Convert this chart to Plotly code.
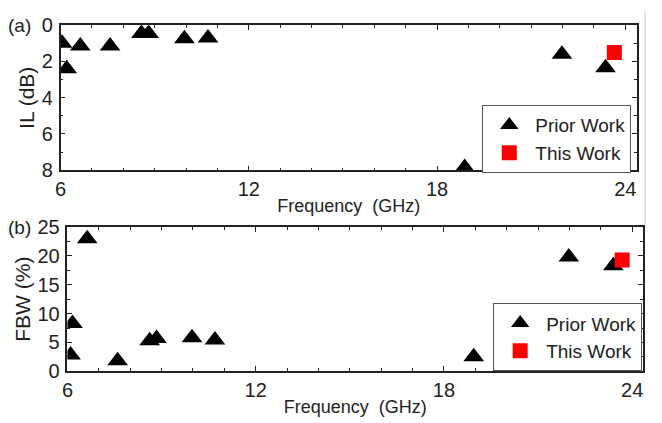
import plotly.graph_objects as go

# Panel (a): insertion loss
il_prior_freq = [6.05, 6.2, 6.63, 7.58, 8.58, 8.81, 9.95, 10.7, 18.88, 21.98, 23.37]
il_prior_val = [1.0, 2.4, 1.15, 1.15, 0.45, 0.45, 0.75, 0.7, 7.85, 1.6, 2.35]
il_this_freq = [23.65]
il_this_val = [1.5]

# Panel (b): fractional bandwidth
fbw_prior_freq = [6.1, 6.16, 6.63, 7.6, 8.62, 8.84, 9.97, 10.7, 18.95, 21.98, 23.4]
fbw_prior_val = [2.8, 8.3, 23.0, 1.8, 5.3, 5.7, 5.8, 5.4, 2.5, 19.8, 18.3]
fbw_this_freq = [23.68]
fbw_this_val = [19.3]

x_ticks = [6, 12, 18, 24]
il_ticks = [0, 2, 4, 6, 8]
fbw_ticks = [0, 5, 10, 15, 20, 25]

W, H = 662, 423
FONT = "Liberation Sans, Arial, sans-serif"

fig = go.Figure()
tri = dict(symbol="triangle-up", size=18, color="black")
sq = dict(symbol="square", size=15, color="#ff0000")

fig.add_trace(go.Scatter(x=il_prior_freq, y=il_prior_val, mode="markers", marker=tri,
                         name="Prior Work", xaxis="x", yaxis="y", legend="legend"))
fig.add_trace(go.Scatter(x=il_this_freq, y=il_this_val, mode="markers", marker=sq,
                         name="This Work", xaxis="x", yaxis="y", legend="legend"))
fig.add_trace(go.Scatter(x=fbw_prior_freq, y=fbw_prior_val, mode="markers", marker=tri,
                         name="Prior Work", xaxis="x2", yaxis="y2", legend="legend2"))
fig.add_trace(go.Scatter(x=fbw_this_freq, y=fbw_this_val, mode="markers", marker=sq,
                         name="This Work", xaxis="x2", yaxis="y2", legend="legend2"))

def px_x(p):
    return p / W

def px_y(p):
    return 1 - p / H

axis_common = dict(showline=True, linecolor="#222", linewidth=1.5, mirror="ticks",
                   ticks="inside", ticklen=5, tickwidth=1.3, tickcolor="#222",
                   showgrid=False, zeroline=False,
                   tickfont=dict(family=FONT, size=20, color="#222"))

minor_x = dict(ticks="inside", ticklen=3, tickwidth=1.1, tickcolor="#222", nticks=5, showgrid=False)

legend_common = dict(bgcolor="white", bordercolor="#555", borderwidth=1,
                     font=dict(family=FONT, size=19, color="#222"), tracegroupgap=0,
                     itemwidth=42)

fig.update_layout(
    width=W, height=H,
    margin=dict(l=0, r=0, t=0, b=0),
    paper_bgcolor="white", plot_bgcolor="white",
    font=dict(family=FONT, color="#222"),
    xaxis=dict(domain=[px_x(55), px_x(637)], range=[6, 24.38], tickvals=x_ticks,
               anchor="y", minor=minor_x, ticklabelstandoff=0,
               title=dict(text="Frequency\u00a0 (GHz)", font=dict(family=FONT, size=18), standoff=0),
               **axis_common),
    yaxis=dict(domain=[px_y(168), px_y(15)], range=[8, 0], tickvals=il_ticks,
               anchor="x", minor=dict(ticks="inside", ticklen=3, tickwidth=1.1, tickcolor="#222", dtick=1),
               ticklabelstandoff=2,
               title=dict(text="IL (dB)", font=dict(family=FONT, size=21), standoff=1),
               **axis_common),
    xaxis2=dict(domain=[px_x(62), px_x(643)], range=[6, 24.35], tickvals=x_ticks,
                anchor="y2", minor=minor_x, ticklabelstandoff=0,
                title=dict(text="Frequency\u00a0 (GHz)", font=dict(family=FONT, size=18), standoff=0),
                **axis_common),
    yaxis2=dict(domain=[px_y(380), px_y(228)], range=[0, 25], tickvals=fbw_ticks,
                anchor="x2", minor=dict(ticks="inside", ticklen=3, tickwidth=1.1, tickcolor="#222", dtick=2.5),
                ticklabelstandoff=2,
                title=dict(text="FBW (%)", font=dict(family=FONT, size=21), standoff=1),
                **axis_common),
    legend=dict(x=px_x(631), xanchor="right", y=px_y(171), yanchor="bottom", **legend_common),
    legend2=dict(x=px_x(642), xanchor="right", y=px_y(380), yanchor="bottom", **legend_common),
    showlegend=True,
    annotations=[
        dict(text="(a)", x=px_x(0), y=px_y(15), xref="paper", yref="paper",
             xanchor="left", yanchor="middle", showarrow=False,
             font=dict(family=FONT, size=19, color="#222")),
        dict(text="(b)", x=px_x(0), y=px_y(228), xref="paper", yref="paper",
             xanchor="left", yanchor="middle", showarrow=False,
             font=dict(family=FONT, size=19, color="#222")),
    ],
    shapes=[
        dict(type="line", xref="paper", yref="paper", x0=px_x(645), x1=px_x(645),
             y0=px_y(0), y1=px_y(224), line=dict(color="#c8c8c8", width=1)),
    ],
)

fig.write_html("out.html")
